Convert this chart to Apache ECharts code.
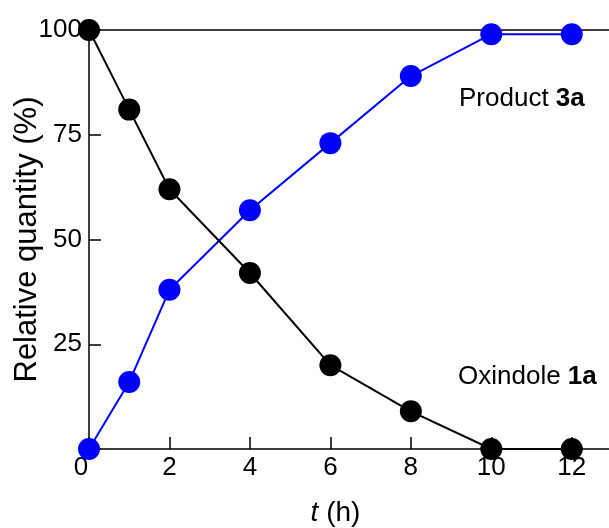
<!DOCTYPE html>
<html>
<head>
<meta charset="utf-8">
<script src="https://cdn.jsdelivr.net/npm/echarts@6/dist/echarts.min.js"></script>
<style>html,body{margin:0;padding:0;background:#fff}#c{width:609px;height:528px}</style>
</head>
<body>
<div id="c"></div>
<script>
const times = [0, 1, 2, 4, 6, 8, 10, 12];
const oxindole1a = [100, 81, 62, 42, 20, 9, 0, 0];
const product3a = [0, 16, 38, 57, 73, 89, 99, 99];
const yTicks = [25, 50, 75, 100];
const xTickStep = 2;

const F = '"Liberation Sans", Arial, sans-serif';
const chart = echarts.init(document.getElementById('c'), null, {renderer: 'canvas'});
const pair = (xs, ys) => xs.map((x, i) => [x, ys[i]]);

chart.setOption({
  animation: false,
  backgroundColor: '#fff',
  grid: {left: 89, right: -3, top: 30, bottom: 79, containLabel: false, outerBoundsMode: 'none'},
  xAxis: [{
    type: 'value', min: 0, max: 13, interval: xTickStep,
    name: '{i|t} (h)', nameLocation: 'middle', nameGap: 50, nameMoveOverlap: false,
    nameTextStyle: {fontFamily: F, fontSize: 28, color: '#000', padding: [0, 30, 0, 0],
      rich: {i: {fontFamily: F, fontSize: 28, fontStyle: 'italic', color: '#000'}}},
    axisLine: {show: true, onZero: false, lineStyle: {color: '#000', width: 1.5}},
    axisTick: {show: true, inside: true, length: 12, lineStyle: {color: '#000', width: 1.5}},
    axisLabel: {fontFamily: F, fontSize: 26, color: '#000', margin: 6, showMaxLabel: false,
      formatter: v => v === 0 ? '{z|0}' : ((v % 2 === 0 && v <= 12) ? String(v) : ''),
      rich: {z: {fontFamily: F, fontSize: 26, color: '#000', padding: [0, 16, 0, 0]}}},
    splitLine: {show: false}
  }, {
    type: 'value', min: 0, max: 13, position: 'top',
    axisLine: {show: true, onZero: false, lineStyle: {color: '#000', width: 1.5}},
    axisTick: {show: false}, axisLabel: {show: false}, splitLine: {show: false}
  }],
  yAxis: {
    type: 'value', min: 0, max: 100, interval: 25,
    name: 'Relative quantity (%)', nameLocation: 'middle', nameGap: 46, nameRotate: 90, nameMoveOverlap: false,
    nameTextStyle: {fontFamily: F, fontSize: 31, color: '#000'},
    axisLine: {show: true, lineStyle: {color: '#000', width: 1.5}},
    axisTick: {show: true, inside: true, length: 12, lineStyle: {color: '#000', width: 1.5}},
    axisLabel: {fontFamily: F, fontSize: 26, color: '#000', margin: 7,
      formatter: v => yTicks.indexOf(v) >= 0 ? String(v) : ''},
    splitLine: {show: false}
  },
  series: [{
    name: 'Product 3a', type: 'line', data: pair(times, product3a), clip: false,
    symbol: 'circle', symbolSize: 22, z: 3,
    itemStyle: {color: '#0000ff'}, lineStyle: {color: '#0000ff', width: 2}
  }, {
    name: 'Oxindole 1a', type: 'line', data: pair(times, oxindole1a), clip: false,
    symbol: 'circle', symbolSize: 22, z: 4,
    itemStyle: {color: '#000'}, lineStyle: {color: '#000', width: 2}
  }],
  graphic: [{
    type: 'text', left: 459, top: 86, z: 10,
    style: {text: 'Product {b|3a}', font: '26px ' + F, fill: '#000',
      rich: {b: {fontFamily: F, fontSize: 26, fontWeight: 'bold', fill: '#000'}}}
  }, {
    type: 'text', left: 458, top: 364, z: 10,
    style: {text: 'Oxindole {b|1a}', font: '26px ' + F, fill: '#000',
      rich: {b: {fontFamily: F, fontSize: 26, fontWeight: 'bold', fill: '#000'}}}
  }]
});
</script>
</body>
</html>
